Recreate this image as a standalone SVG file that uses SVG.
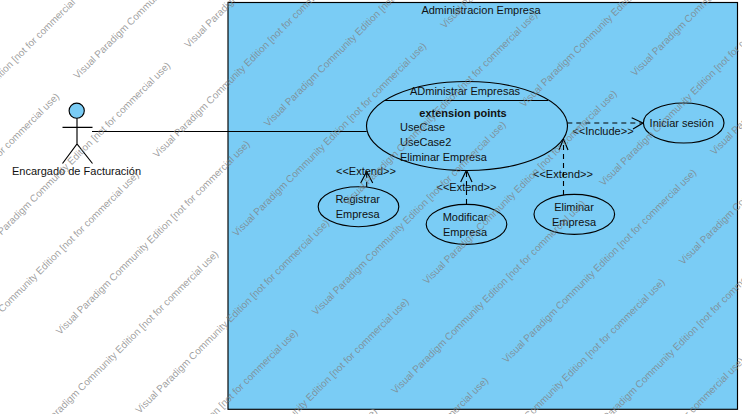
<svg xmlns="http://www.w3.org/2000/svg" width="742" height="414" viewBox="0 0 742 414">
<style>
text{font-family:"Liberation Sans",Arial,sans-serif;font-size:11px;fill:#111}
.c{text-anchor:middle}
.b{font-weight:bold}
.s{fill:#7accf5;stroke:#000;stroke-width:1.15}
.u{fill:none;stroke:#000;stroke-width:1.15}
.d{fill:none;stroke:#000;stroke-width:1.1;stroke-dasharray:5 4}
.w{font-size:10px;fill:#808080;fill-opacity:.75}
</style>
<rect width="742" height="414" fill="#fff"/>
<g id="system">
<rect class="s" x="228" y="2.5" width="509.5" height="406.8"/>
<text class="c" x="481" y="14">Administracion Empresa</text>
</g>
<g id="actor">
<circle class="s" cx="76.7" cy="110.7" r="7.6"/>
<path class="u" d="M77 118.300V144M62.500 127.300H92.500M62.500 163.500L77 144L92.500 163.500"/>
<text class="c" x="76.500" y="175">Encargado de Facturación</text>
</g>
<g id="connectors">
<path class="u" d="M92 131.500H366.700"/>
<path class="d" d="M567.300 123H642"/>
<path class="u" d="M631.700 117.700L643 123L633 129"/>
<text class="c" x="603" y="135">&lt;&lt;Include&gt;&gt;</text>
<path class="d" d="M563.500 195V140"/>
<path class="u" d="M559 150L563.500 139L568 150"/>
<text class="c" x="563" y="178">&lt;&lt;Extend&gt;&gt;</text>
<path class="d" d="M466.500 204V172"/>
<path class="u" d="M460.700 182L466.500 170L472 182"/>
<text class="c" x="466.500" y="191">&lt;&lt;Extend&gt;&gt;</text>
<path class="d" d="M366.700 187V173"/>
<path class="u" d="M360.700 183L366.700 171.500L372.700 183"/>
<text class="c" x="366" y="175">&lt;&lt;Extend&gt;&gt;</text>
</g>
<g id="administrar-empresas">
<ellipse class="s" cx="467" cy="126" rx="100.500" ry="44.500"/>
<path class="u" d="M385 100.500H548"/>
<text class="c" x="465" y="95">ADministrar Empresas</text>
<text class="c b" x="463" y="116.500">extension points</text>
<text x="400" y="131">UseCase</text>
<text x="400" y="146">UseCase2</text>
<text x="400" y="161">Eliminar Empresa</text>
</g>
<g id="iniciar-sesion">
<ellipse class="s" cx="683.700" cy="123" rx="40.300" ry="20"/>
<text class="c" x="681.700" y="127">Iniciar sesión</text>
</g>
<g id="registrar-empresa">
<ellipse class="s" cx="358.500" cy="206.700" rx="40.300" ry="20"/>
<text class="c" x="357.700" y="203">Registrar</text>
<text class="c" x="357.700" y="218">Empresa</text>
</g>
<g id="modificar-empresa">
<ellipse class="s" cx="466.500" cy="224.300" rx="40.300" ry="20"/>
<text class="c" x="465" y="221">Modificar</text>
<text class="c" x="465" y="236">Empresa</text>
</g>
<g id="eliminar-empresa">
<ellipse class="s" cx="574.300" cy="214.300" rx="40.300" ry="20"/>
<text class="c" x="574" y="211">Eliminar</text>
<text class="c" x="574" y="226">Empresa</text>
</g>
<g id="watermark" transform="translate(3.5 1.5)">
<text class="w" transform="translate(74 78) rotate(-45)">Visual Paradigm Community Edition [not for commercial use)</text>
<text class="w" transform="translate(-134 286) rotate(-45)">Visual Paradigm Community Edition [not for commercial use)</text>
<text class="w" transform="translate(153.500 156.700) rotate(-45)">Visual Paradigm Community Edition [not for commercial use)</text>
<text class="w" transform="translate(-54.500 364.700) rotate(-45)">Visual Paradigm Community Edition [not for commercial use)</text>
<text class="w" transform="translate(233 235.500) rotate(-45)">Visual Paradigm Community Edition [not for commercial use)</text>
<text class="w" transform="translate(441 27.500) rotate(-45)">Visual Paradigm Community Edition [not for commercial use)</text>
<text class="w" transform="translate(25 443.500) rotate(-45)">Visual Paradigm Community Edition [not for commercial use)</text>
<text class="w" transform="translate(312.500 314.200) rotate(-45)">Visual Paradigm Community Edition [not for commercial use)</text>
<text class="w" transform="translate(520.500 106.200) rotate(-45)">Visual Paradigm Community Edition [not for commercial use)</text>
<text class="w" transform="translate(104.500 522.200) rotate(-45)">Visual Paradigm Community Edition [not for commercial use)</text>
<text class="w" transform="translate(392 393) rotate(-45)">Visual Paradigm Community Edition [not for commercial use)</text>
<text class="w" transform="translate(600 185) rotate(-45)">Visual Paradigm Community Edition [not for commercial use)</text>
<text class="w" transform="translate(184 601) rotate(-45)">Visual Paradigm Community Edition [not for commercial use)</text>
<text class="w" transform="translate(471.500 471.700) rotate(-45)">Visual Paradigm Community Edition [not for commercial use)</text>
<text class="w" transform="translate(679.500 263.700) rotate(-45)">Visual Paradigm Community Edition [not for commercial use)</text>
<text class="w" transform="translate(551 550.500) rotate(-45)">Visual Paradigm Community Edition [not for commercial use)</text>
<text class="w" transform="translate(-102.500 176.200) rotate(-45)">Visual Paradigm Community Edition [not for commercial use)</text>
<text class="w" transform="translate(185 47) rotate(-45)">Visual Paradigm Community Edition [not for commercial use)</text>
<text class="w" transform="translate(-23 255) rotate(-45)">Visual Paradigm Community Edition [not for commercial use)</text>
<text class="w" transform="translate(264.500 125.700) rotate(-45)">Visual Paradigm Community Edition [not for commercial use)</text>
<text class="w" transform="translate(56.500 333.700) rotate(-45)">Visual Paradigm Community Edition [not for commercial use)</text>
<text class="w" transform="translate(344 204.500) rotate(-45)">Visual Paradigm Community Edition [not for commercial use)</text>
<text class="w" transform="translate(136 412.500) rotate(-45)">Visual Paradigm Community Edition [not for commercial use)</text>
<text class="w" transform="translate(423.500 283.200) rotate(-45)">Visual Paradigm Community Edition [not for commercial use)</text>
<text class="w" transform="translate(631.500 75.200) rotate(-45)">Visual Paradigm Community Edition [not for commercial use)</text>
<text class="w" transform="translate(215.500 491.200) rotate(-45)">Visual Paradigm Community Edition [not for commercial use)</text>
<text class="w" transform="translate(503 362) rotate(-45)">Visual Paradigm Community Edition [not for commercial use)</text>
<text class="w" transform="translate(711 154) rotate(-45)">Visual Paradigm Community Edition [not for commercial use)</text>
<text class="w" transform="translate(295 570) rotate(-45)">Visual Paradigm Community Edition [not for commercial use)</text>
<text class="w" transform="translate(582.500 440.700) rotate(-45)">Visual Paradigm Community Edition [not for commercial use)</text>
</g>
</svg>
